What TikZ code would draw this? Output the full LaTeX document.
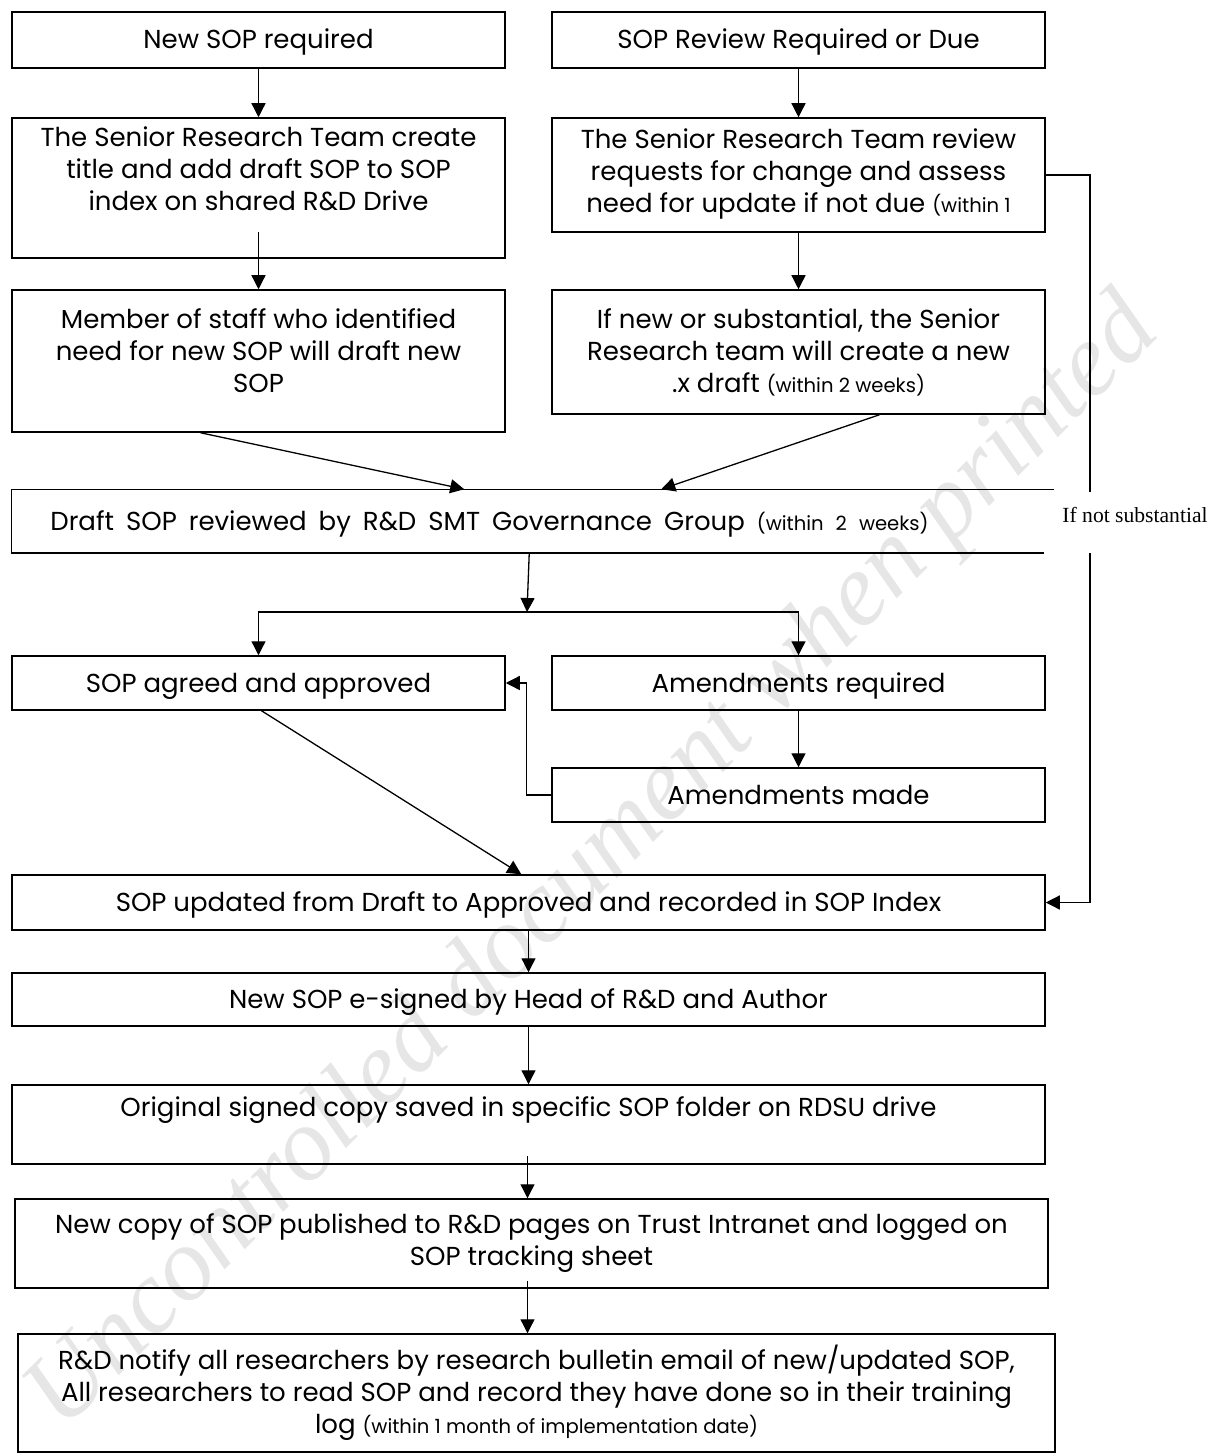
\documentclass[tikz,border=0pt]{standalone}
\usepackage{fontspec}
\setmainfont{Poppins}
\newfontfamily\notefont{Liberation Serif}
\usetikzlibrary{calc,arrows.meta}
\definecolor{wmark}{HTML}{E6E6E6}
\newcommand\boxsize{\fontsize{13pt}{16pt}\selectfont}
\newcommand\wk[1]{{\fontsize{9.8pt}{12pt}\selectfont #1}}
\tikzset{
  box/.style={draw=black, line width=0.75pt, align=center, inner sep=2pt, font=\boxsize},
  halfbox/.style={minimum width=246.5pt},
  widebox/.style={minimum width=516.5pt},
  oneline/.style={text height=10.5pt, text depth=1.5pt},
  flow/.style={draw=black, line width=0.65pt, -{Triangle[length=7pt,width=7pt]}},
  link/.style={draw=black, line width=0.65pt},
  lab/.style={font=\notefont\fontsize{10.8pt}{13pt}\selectfont},
  stamp/.style={text=wmark, font=\notefont\itshape\fontsize{52pt}{60pt}\selectfont, rotate=45},
}

\begin{document}
\begin{tikzpicture}[x=0.5pt,y=-0.5pt]
  \useasboundingbox (0,0) rectangle (1218,1454);
  \node[stamp] (wm) at (595,865) {Uncontrolled document when printed};

  % two entry points
  \node[box,halfbox,oneline,minimum height=28pt] (new) at (258.5,40) {New SOP required};
  \node[box,halfbox,oneline,minimum height=28pt] (due) at (798.5,40) {SOP Review Required or Due};
  \node[box,halfbox,minimum height=70pt,text depth=19pt] (create) at (258.5,188)
    {The Senior Research Team create\\ title and add draft SOP to SOP\\ index on shared R\&D Drive};
  \node[box,halfbox,minimum height=57pt,text depth=4pt] (review) at (798.5,175)
    {The Senior Research Team review\\ requests for change and assess\\ need for update if not due \wk{(within 1}};
  \node[box,halfbox,minimum height=71pt,text depth=10pt] (member) at (258.5,361)
    {Member of staff who identified\\ need for new SOP will draft new\\ SOP};
  \node[box,halfbox,minimum height=62pt] (redraft) at (798.5,352)
    {If new or substantial, the Senior\\ Research team will create a new\\ .x draft \wk{(within 2 weeks)}};

  % governance review
  \node[box,oneline,draw=none,minimum width=520.5pt,minimum height=31pt] (gov) at (532.5,521)
    {\spaceskip=6pt plus 1pt\relax Draft SOP reviewed by R\&D SMT Governance Group \wk{(within 2 weeks)}\hspace*{43pt}};
  \draw[link,line width=0.75pt] (gov.north east) -- (gov.north west) -- (gov.south west) -- ($(gov.south east)+(-10,0)$);
  \coordinate (split) at (527,612);
  \node[box,halfbox,oneline,minimum height=27pt] (agreed) at (258.5,683) {SOP agreed and approved};
  \node[box,halfbox,oneline,minimum height=27pt] (amreq) at (798.5,683) {Amendments required};
  \node[box,halfbox,oneline,minimum height=27pt] (ammade) at (798.5,795) {Amendments made};

  % publishing chain
  \node[box,widebox,oneline,minimum height=27.5pt] (updated) at (528.5,902.5)
    {SOP updated from Draft to Approved and recorded in SOP Index};
  \node[box,widebox,oneline,minimum height=26.5pt] (signed) at (528.5,999.5)
    {New SOP e-signed by Head of R\&D and Author};
  \node[box,widebox,minimum height=39.5pt,text depth=18pt] (saved) at (528.5,1124.5)
    {Original signed copy saved in specific SOP folder on RDSU drive};
  \node[box,widebox,minimum height=44.5pt] (published) at (531.5,1243.5)
    {New copy of SOP published to R\&D pages on Trust Intranet and logged on\\ SOP tracking sheet};
  \node[box,minimum width=518.5pt,minimum height=59pt] (notify) at (536.5,1393)
    {R\&D notify all researchers by research bulletin email of new/updated SOP,\\ All researchers to read SOP and record they have done so in their training\\ log \wk{(within 1 month of implementation date)}};

  % side route
  \node[lab] (nsub) at (1135,515) {If not substantial};
  \coordinate (gapT) at (1090,492);
  \coordinate (gapB) at (1090,553);

  \draw[flow] (new) -- (create);
  \draw[flow] (due) -- (review);
  \draw[flow] ($(create.south)+(0,-27)$) -- (member);
  \draw[flow] (review) -- (redraft);
  \draw[flow] ($(member.south)+(-58,0)$) -- ($(gov.north west)+(453,0)$);
  \draw[flow] ($(redraft.south)+(81,0)$) -- ($(gov.north west)+(650,0)$);
  \draw[flow] ($(gov.south west)+(518,0)$) -- (split);
  \draw[flow] (split) -| (agreed.north);
  \draw[flow] (split) -| (amreq.north);
  \draw[flow] (amreq) -- (ammade);
  \draw[flow] (ammade.west) -- ++(-25,0) |- (agreed.east);
  \draw[flow] ($(agreed.south)+(3,0)$) -- ($(updated.north west)+(510,0)$);
  \draw[link] (review.east) -| (gapT);
  \draw[flow] (gapB) |- (updated.east);
  \draw[flow] (updated) -- (signed);
  \draw[flow] (signed) -- (saved);
  \draw[flow] ($(saved.south)+(-1,-9)$) -- ($(published.north)+(-4,0)$);
  \draw[flow] ($(published.south)+(-4,-8)$) -- ($(notify.north)+(-9,0)$);
\end{tikzpicture}
\end{document}
